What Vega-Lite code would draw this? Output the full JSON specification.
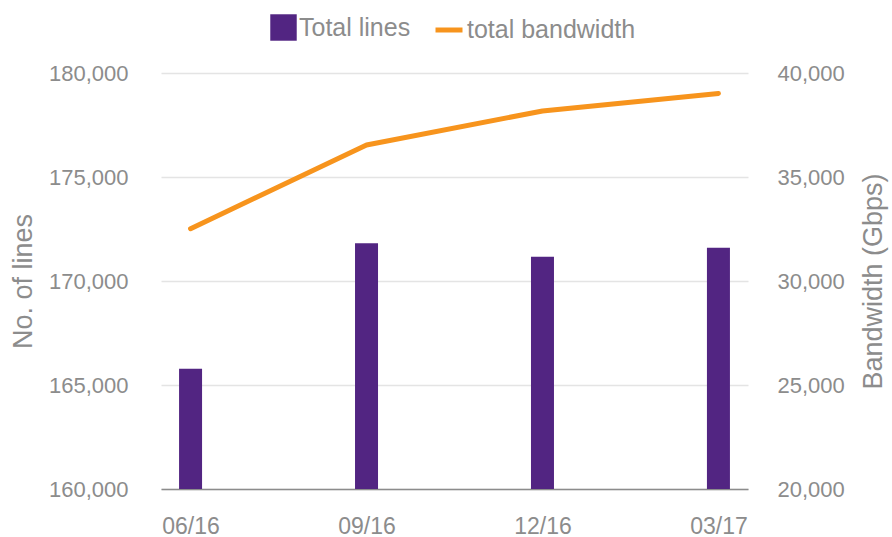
{
  "$schema": "https://vega.github.io/schema/vega-lite/v6.json",
  "width": 587,
  "height": 416,
  "autosize": "none",
  "padding": {"left": 161, "top": 73, "right": 144, "bottom": 48},
  "background": "white",
  "config": {
    "view": {"stroke": null},
    "font": "Liberation Sans",
    "axis": {"labelColor": "#8c8c8c", "titleColor": "#8c8c8c", "titleFontWeight": "normal", "ticks": false}
  },
  "data": {
    "values": [
      {"period": "06/16", "lines": 165784, "bandwidth": 32514},
      {"period": "09/16", "lines": 171813, "bandwidth": 36538},
      {"period": "12/16", "lines": 171168, "bandwidth": 38173},
      {"period": "03/17", "lines": 171601, "bandwidth": 39019}
    ]
  },
  "encoding": {
    "x": {
      "field": "period",
      "type": "ordinal",
      "sort": null,
      "scale": {"type": "point", "padding": 0.168},
      "axis": {
        "title": null,
        "labelAngle": 0,
        "labelFontSize": 23,
        "labelPadding": 26,
        "domain": true,
        "domainColor": "#8c8c8c",
        "domainWidth": 1.5,
        "grid": false
      }
    }
  },
  "layer": [
    {
      "mark": {"type": "bar", "width": 23},
      "encoding": {
        "y": {
          "field": "lines",
          "type": "quantitative",
          "scale": {"domain": [160000, 180000], "zero": false, "nice": false},
          "axis": {
            "title": "No. of lines",
            "titleFontSize": 27,
            "titlePadding": 11,
            "labelFontSize": 22,
            "labelPadding": 33,
            "values": [160000, 165000, 170000, 175000, 180000],
            "format": ",.0f",
            "domain": false,
            "grid": true,
            "gridColor": "#e4e4e4",
            "gridWidth": 1.5
          }
        },
        "y2": {"datum": 160000},
        "fill": {
          "datum": "Total lines",
          "type": "nominal",
          "scale": {"range": ["#522582"]},
          "legend": {
            "orient": "none",
            "legendX": 109,
            "legendY": -59,
            "title": null,
            "symbolType": "square",
            "symbolSize": 700,
            "symbolStrokeWidth": 0,
            "labelFontSize": 25,
            "labelColor": "#8c8c8c",
            "labelOffset": 2,
            "labelLimit": 300,
            "padding": 0
          }
        }
      }
    },
    {
      "mark": {"type": "line", "strokeWidth": 5, "strokeCap": "round", "strokeJoin": "round"},
      "encoding": {
        "y": {
          "field": "bandwidth",
          "type": "quantitative",
          "scale": {"domain": [20000, 40000], "zero": false, "nice": false},
          "axis": {
            "orient": "right",
            "title": "Bandwidth (Gbps)",
            "titleAngle": 270,
            "titleBaseline": "top",
            "titleFontSize": 27,
            "titlePadding": 16,
            "labelFontSize": 22,
            "labelPadding": 29,
            "values": [20000, 25000, 30000, 35000, 40000],
            "format": ",.0f",
            "domain": false,
            "grid": false
          }
        },
        "stroke": {
          "datum": "total bandwidth",
          "type": "nominal",
          "scale": {"range": ["#F7941D"]},
          "legend": {
            "orient": "none",
            "legendX": 272,
            "legendY": -59,
            "title": null,
            "symbolType": "stroke",
            "symbolSize": 729,
            "symbolStrokeWidth": 5,
            "labelFontSize": 25,
            "labelColor": "#8c8c8c",
            "labelOffset": 2,
            "labelLimit": 300,
            "padding": 0
          }
        }
      }
    }
  ],
  "resolve": {"scale": {"y": "independent"}}
}
